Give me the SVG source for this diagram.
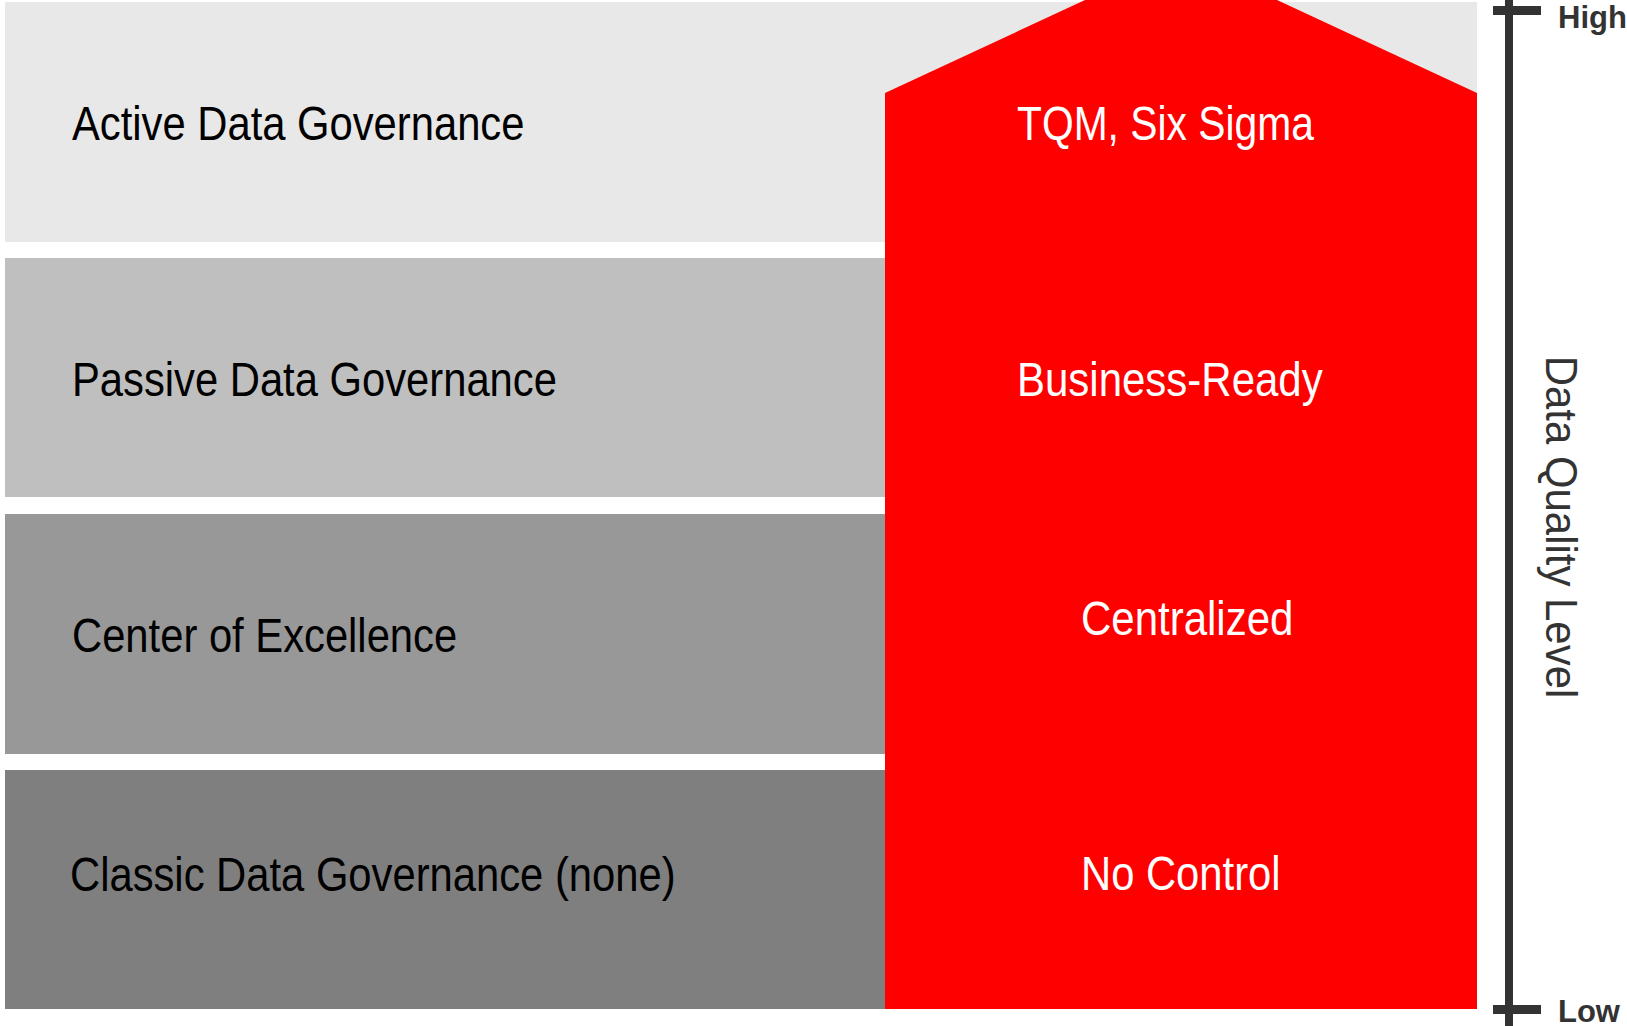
<svg xmlns="http://www.w3.org/2000/svg" width="1627" height="1026" viewBox="0 0 1627 1026">
<style>
.lbl{font-family:"Liberation Sans",Arial,sans-serif;font-size:48px;fill:#000}
.wl{font-family:"Liberation Sans",Arial,sans-serif;font-size:48px;fill:#fff}
.ax{font-family:"Liberation Sans",Arial,sans-serif;font-size:31px;font-weight:bold;fill:#333}
.axt{font-family:"Liberation Sans",Arial,sans-serif;font-size:44px;fill:#333}
</style>
<rect width="1627" height="1026" fill="#fff"/>
<g id="band-active"><rect x="5" y="2" width="1472" height="240" fill="#e8e8e8"/><text class="lbl" transform="translate(72,140) scale(0.87,1)">Active Data Governance</text></g>
<g id="band-passive"><rect x="5" y="258" width="880" height="239" fill="#bfbfbf"/><text class="lbl" transform="translate(72,396) scale(0.87,1)">Passive Data Governance</text></g>
<g id="band-coe"><rect x="5" y="514" width="880" height="240" fill="#989898"/><text class="lbl" transform="translate(72,652) scale(0.87,1)">Center of Excellence</text></g>
<g id="band-classic"><rect x="5" y="770" width="880" height="239" fill="#7f7f7f"/><text class="lbl" transform="translate(70,891) scale(0.87,1)">Classic Data Governance (none)</text></g>
<g id="arrow"><polygon points="885,93 1085,0 1277,0 1477,93 1477,1009 885,1009" fill="#ff0000"/>
<text class="wl" transform="translate(1017,140) scale(0.85,1)">TQM, Six Sigma</text>
<text class="wl" transform="translate(1017,396) scale(0.875,1)">Business-Ready</text>
<text class="wl" transform="translate(1081,635) scale(0.875,1)">Centralized</text>
<text class="wl" transform="translate(1081,890) scale(0.87,1)">No Control</text></g>
<g id="axis">
<rect x="1505" y="0" width="8" height="1026" fill="#333"/>
<rect x="1493" y="6" width="48" height="9" fill="#333"/>
<rect x="1493" y="1005" width="48" height="9" fill="#333"/>
<text class="ax" x="1558" y="28">High</text>
<text class="ax" x="1558" y="1022">Low</text>
<text class="axt" transform="translate(1546,527) rotate(90) scale(0.953,1)" text-anchor="middle">Data Quality Level</text>
</g>
</svg>
